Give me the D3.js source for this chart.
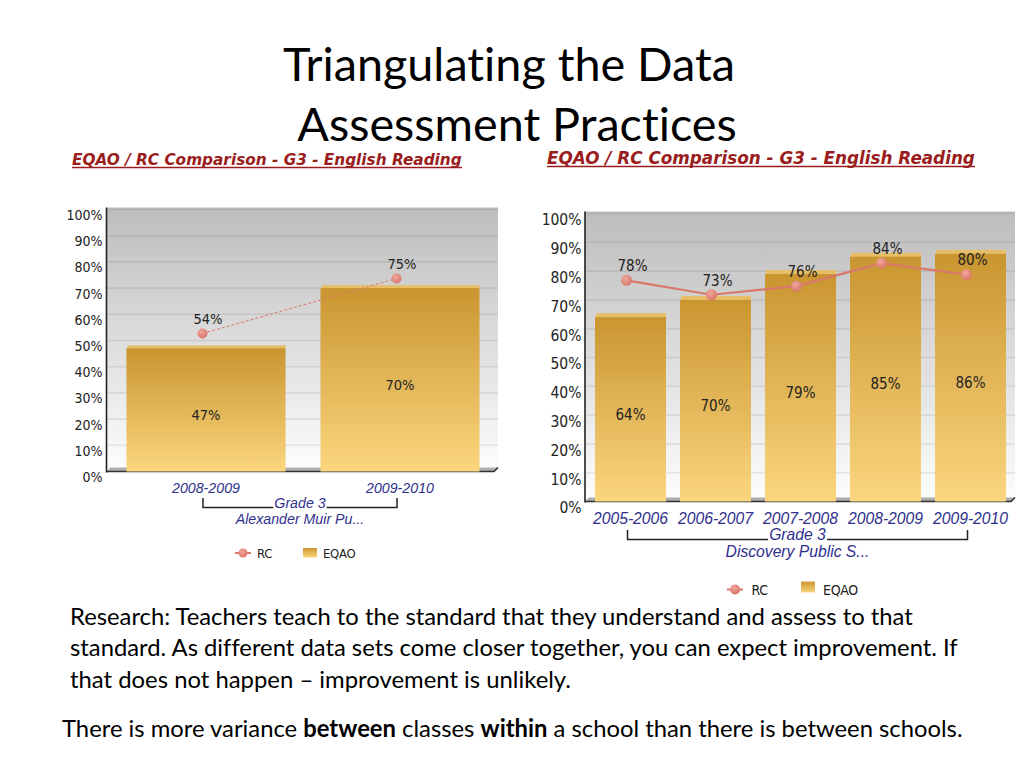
<!DOCTYPE html>
<html><head><meta charset="utf-8">
<script src="https://cdn.jsdelivr.net/npm/d3@7"></script>
<style>body{margin:0;background:#fff}svg{display:block}text{font-variant-ligatures:none;font-feature-settings:"liga" 0}</style>
</head><body><svg id="c" width="1024" height="768"></svg>
<script>
const titleLines = ["Triangulating the Data", "Assessment Practices"];
const chartTitle = "EQAO / RC Comparison - G3 - English Reading";
const yTickValues = [0, 10, 20, 30, 40, 50, 60, 70, 80, 90, 100];
const leftCategories = ["2008-2009", "2009-2010"];
const leftEQAO = [47, 70];
const leftRC = [54, 75];
const rightCategories = ["2005-2006", "2006-2007", "2007-2008", "2008-2009", "2009-2010"];
const rightEQAO = [64, 70, 79, 85, 86];
const rightRC = [78, 73, 76, 84, 80];
const groupLabel = "Grade 3";
const leftSchool = "Alexander Muir Pu...";
const rightSchool = "Discovery Public S...";
const legendLabels = ["RC", "EQAO"];
const bodyLines = [
  "Research: Teachers teach to the standard that they understand and assess to that",
  "standard. As different data sets come closer together, you can expect improvement. If",
  "that does not happen \u2013 improvement is unlikely."
];
const lastLine = [
  {t: "There is more variance ", b: false},
  {t: "between", b: true},
  {t: " classes ", b: false},
  {t: "within", b: true},
  {t: " a school than there is between schools.", b: false}
];

const svg = d3.select("#c");
svg.append("rect").attr("width", 1024).attr("height", 768).attr("fill", "#fff");
const defs = svg.append("defs");
const bg = defs.append("linearGradient").attr("id", "bgGrad").attr("x1", 0).attr("y1", 0).attr("x2", 0).attr("y2", 1);
bg.append("stop").attr("offset", "0").attr("stop-color", "#bdbdbd");
bg.append("stop").attr("offset", "1").attr("stop-color", "#fdfdfd");
const bar = defs.append("linearGradient").attr("id", "barGrad").attr("x1", 0).attr("y1", 0).attr("x2", 0).attr("y2", 1);
bar.append("stop").attr("offset", "0").attr("stop-color", "#c99530");
bar.append("stop").attr("offset", "1").attr("stop-color", "#fbd67e");
const mk = defs.append("radialGradient").attr("id", "mkGrad").attr("cx", "40%").attr("cy", "35%").attr("r", "65%");
mk.append("stop").attr("offset", "0").attr("stop-color", "#f0a89c");
mk.append("stop").attr("offset", "1").attr("stop-color", "#d9776a");

const labFont = "'DejaVu Sans Condensed', 'DejaVu Sans', Tahoma, sans-serif";
const catFont = "'Liberation Sans', Arial, sans-serif";

function fit(sel, target) {
  const w = sel.node().getBBox().width;
  const fs = parseFloat(sel.attr("font-size"));
  sel.attr("font-size", fs * target / w);
  return fs * target / w;
}

// Slide title
const t1 = svg.append("text").attr("x", 509).attr("y", 81).attr("text-anchor", "middle")
  .attr("font-family", "Lato, 'Open Sans', sans-serif").attr("font-size", 44).attr("fill", "#000").text(titleLines[0]);
const tfs = fit(t1, 452);
svg.append("text").attr("x", 517).attr("y", 141).attr("text-anchor", "middle")
  .attr("font-family", "Lato, 'Open Sans', sans-serif").attr("font-size", tfs).attr("fill", "#000").text(titleLines[1]);

function drawChart(c) {
  const g = svg.append("g");
  const y = d3.scaleLinear().domain([0, 100]).range([c.y0, c.y100]);
  const x = d3.scaleBand().domain(c.cats).range(c.band).paddingInner(c.pad).paddingOuter(c.pad / 2);
  const bw = x.bandwidth();

  // chart title
  const ct = g.append("text").attr("x", c.titleX).attr("y", c.titleY)
    .attr("font-family", "'DejaVu Sans', Verdana, sans-serif").attr("font-weight", "bold").attr("font-style", "italic")
    .attr("font-size", 13).attr("fill", "#9a1d1d").text(chartTitle);
  fit(ct, c.titleW);
  g.append("line").attr("x1", c.titleX).attr("x2", c.titleX + c.titleW)
    .attr("y1", c.titleY + 2.5).attr("y2", c.titleY + 2.5).attr("stroke", "#9a1d1d").attr("stroke-width", 1.3);

  // background
  g.append("rect").attr("x", c.axisX).attr("y", y(100) - 2).attr("width", c.plotRight - c.axisX)
    .attr("height", c.y0 - y(100) + 2).attr("fill", "url(#bgGrad)");
  // gridlines
  g.selectAll(".grid").data(yTickValues.slice(1)).join("line")
    .attr("x1", c.axisX).attr("x2", c.plotRight).attr("y1", d => y(d)).attr("y2", d => y(d))
    .attr("stroke", "rgba(0,0,0,0.08)").attr("stroke-width", 1.6);
  // floor
  const fd = 4;
  g.append("path").attr("d", `M${c.axisX},${c.y0}L${c.plotRight - fd},${c.y0}L${c.plotRight},${c.y0 - fd}L${c.axisX + fd},${c.y0 - fd}Z`)
    .attr("fill", "#aeaeae");
  g.append("path").attr("d", `M${c.axisX},${c.y0}L${c.plotRight - fd},${c.y0}L${c.plotRight},${c.y0 - fd}`)
    .attr("fill", "none").attr("stroke", "#333").attr("stroke-width", 1.6);
  g.append("line").attr("x1", c.axisX).attr("x2", c.axisX).attr("y1", y(100) - 2).attr("y2", c.y0 + 1)
    .attr("stroke", "#222").attr("stroke-width", 1.6);

  // axis labels
  const ax = g.append("g").attr("transform", `translate(${c.axisX},${c.tickDy})`)
    .call(d3.axisLeft(y).tickValues(yTickValues).tickFormat(d => d + "%").tickSize(0).tickPadding(c.tickPad));
  ax.select(".domain").remove();
  ax.selectAll("text").attr("font-family", labFont).attr("font-stretch", "condensed").attr("font-size", c.tickFs).attr("fill", "#222");

  // bars
  g.selectAll(".cap").data(c.eqao).join("rect")
    .attr("x", (d, i) => x(c.cats[i]) + 1).attr("y", d => y(d) - c.cap).attr("width", bw - 1).attr("height", c.cap + 1)
    .attr("fill", "#e6be68");
  g.selectAll(".bar").data(c.eqao).join("rect")
    .attr("x", (d, i) => x(c.cats[i])).attr("y", d => y(d)).attr("width", bw).attr("height", d => c.y0 - y(d))
    .attr("fill", "url(#barGrad)");
  g.selectAll(".blab").data(c.eqao).join("text")
    .attr("x", (d, i) => x(c.cats[i]) + bw / 2).attr("y", d => (y(d) + c.y0) / 2 + 5).attr("dy", "0.35em")
    .attr("text-anchor", "middle").attr("font-family", labFont).attr("font-stretch", "condensed")
    .attr("font-size", c.dataFs).attr("fill", "#222").text(d => d + "%");

  // RC line
  const px = i => x(c.cats[i]) + bw / 2 + c.ddx;
  const py = v => y(v) + c.ddy;
  g.append("path").datum(c.rc).attr("d", d3.line().x((d, i) => px(i)).y(d => py(d)))
    .attr("fill", "none").attr("stroke", "#d9786b").attr("stroke-width", c.lineW)
    .attr("stroke-dasharray", c.dashed ? "3,2" : null);
  g.selectAll(".mk").data(c.rc).join("circle")
    .attr("cx", (d, i) => px(i)).attr("cy", d => py(d)).attr("r", c.mr).attr("fill", "url(#mkGrad)");
  g.selectAll(".rlab").data(c.rc).join("text")
    .attr("x", (d, i) => x(c.cats[i]) + bw / 2 + 2).attr("y", d => y(d) - 11).attr("dy", "0.35em")
    .attr("text-anchor", "middle").attr("font-family", labFont).attr("font-stretch", "condensed")
    .attr("font-size", c.dataFs).attr("fill", "#222").text(d => d + "%");

  // category labels
  g.selectAll(".cat").data(c.cats).join("text")
    .attr("x", d => x(d) + bw / 2).attr("y", c.catY).attr("dy", "0.35em").attr("text-anchor", "middle")
    .attr("font-family", catFont).attr("font-style", "italic").attr("font-size", c.catFs).attr("fill", "#2f2f8c").text(d => d);
  const bx0 = x(c.cats[0]) + bw / 2 - 3, bx1 = x(c.cats[c.cats.length - 1]) + bw / 2 - 3;
  const bmid = (bx0 + bx1) / 2;
  const gl = g.append("text").attr("x", bmid).attr("y", c.brB).attr("text-anchor", "middle")
    .attr("font-family", catFont).attr("font-style", "italic").attr("font-size", c.catFs).attr("fill", "#2f2f8c").text(groupLabel);
  const gw = gl.node().getBBox().width;
  g.append("path").attr("d", `M${bx0},${c.brT}V${c.brB}H${bmid - gw / 2 - 1}M${bmid + gw / 2 + 1},${c.brB}H${bx1}V${c.brT}`)
    .attr("fill", "none").attr("stroke", "#222").attr("stroke-width", 1.5);
  g.append("text").attr("x", bmid).attr("y", c.schoolY).attr("text-anchor", "middle")
    .attr("font-family", catFont).attr("font-style", "italic").attr("font-size", c.catFs).attr("fill", "#2f2f8c").text(c.school);

  // legend
  const L = c.leg;
  g.append("line").attr("x1", L.mx - 8).attr("x2", L.mx + 8).attr("y1", L.my).attr("y2", L.my)
    .attr("stroke", "#d9786b").attr("stroke-width", 2);
  g.append("circle").attr("cx", L.mx).attr("cy", L.my).attr("r", c.mr - 0.5).attr("fill", "url(#mkGrad)");
  g.append("text").attr("x", L.tx).attr("y", L.ty).attr("font-family", labFont).attr("font-stretch", "condensed")
    .attr("font-size", c.legFs).attr("fill", "#222").attr("letter-spacing", -0.3).text(legendLabels[0]);
  g.append("rect").attr("x", L.sx).attr("y", L.sy).attr("width", L.sw).attr("height", L.sh).attr("fill", "url(#barGrad)");
  g.append("text").attr("x", L.ex).attr("y", L.ty).attr("font-family", labFont).attr("font-stretch", "condensed")
    .attr("font-size", c.legFs).attr("fill", "#222").attr("letter-spacing", -0.3).text(legendLabels[1]);
}

drawChart({
  cats: leftCategories, eqao: leftEQAO, rc: leftRC, school: leftSchool,
  titleX: 72, titleY: 165, titleW: 390,
  axisX: 106.5, plotRight: 498, y0: 471.5, y100: 209.5, band: [109, 497], pad: 0.18,
  tickDy: 5.5, tickPad: 4, tickFs: 14, dataFs: 14.5, catFs: 14.2, legFs: 13,
  cap: 3, ddx: -3.5, ddy: 3.5, lineW: 1, dashed: true, mr: 5,
  catY: 488, brT: 498, brB: 507.5, schoolY: 524,
  leg: {mx: 243, my: 553, tx: 257, ty: 558, sx: 303, sy: 548, sw: 14, sh: 9.5, ex: 323}
});
drawChart({
  cats: rightCategories, eqao: rightEQAO, rc: rightRC, school: rightSchool,
  titleX: 547, titleY: 164, titleW: 428,
  axisX: 585, plotRight: 1015, y0: 501.5, y100: 213.5, band: [588, 1013], pad: 0.165,
  tickDy: 6.5, tickPad: 3.5, tickFs: 15.5, dataFs: 15, catFs: 15.7, legFs: 14,
  cap: 4, ddx: -4, ddy: 3.5, lineW: 2.2, dashed: false, mr: 5.5,
  catY: 518.5, brT: 530, brB: 539.5, schoolY: 556.5,
  leg: {mx: 735, my: 589.5, tx: 751.5, ty: 595, sx: 801, sy: 581.5, sw: 14, sh: 11, ex: 823}
});

// body text
const bodyFont = "Lato, 'Open Sans', sans-serif";
const bodyTargets = [843, 888, 501];
const bodyYs = [625, 656, 688];
bodyLines.forEach((ln, i) => {
  const t = svg.append("text").attr("x", 70).attr("y", bodyYs[i]).attr("font-family", bodyFont)
    .attr("font-size", 20).attr("fill", "#000").text(ln);
  fit(t, bodyTargets[i]);
});
const ll = svg.append("text").attr("x", 62).attr("y", 737).attr("font-family", bodyFont).attr("font-size", 20).attr("fill", "#000");
ll.selectAll("tspan").data(lastLine).join("tspan").attr("font-weight", d => d.b ? "bold" : "normal").text(d => d.t);
fit(ll, 901);
</script>
</body></html>
